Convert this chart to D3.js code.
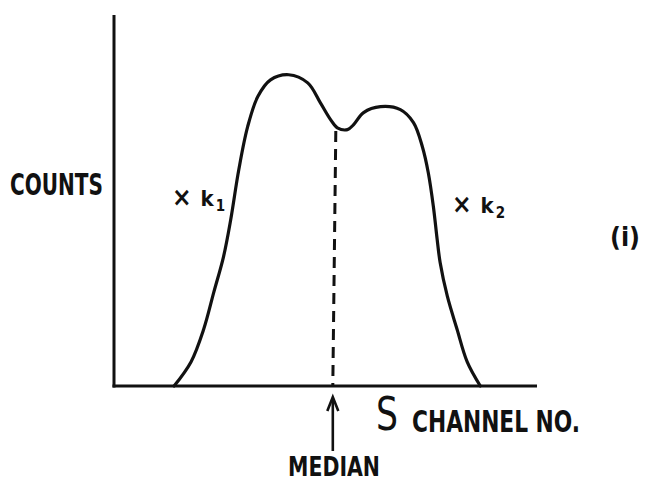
<!DOCTYPE html>
<html>
<head>
<meta charset="utf-8">
<script src="https://cdn.jsdelivr.net/npm/d3@7"></script>
<style>
  html, body { margin: 0; padding: 0; background: #fff; }
  svg { display: block; }
  text { fill: #111; }
</style>
</head>
<body>
<svg id="chart" width="646" height="482"></svg>
<script>
// S-channel spectrum: channel number vs counts (arbitrary units)
const channels = [14.2, 18.2, 21.2, 23.6, 25.9, 27.6, 29.5, 31.6, 34.0, 37.0, 41.3, 45.8, 48.8, 51.2, 52.8, 55.2, 56.6, 59.0, 63.0, 67.7, 70.8, 72.9, 74.3, 75.5, 76.4, 77.1, 78.8, 81.1, 83.5, 86.6];
const counts   = [0, 6.5, 15.3, 25.3, 34.9, 44.9, 58.3, 69.9, 78.0, 82.5, 83.9, 81.7, 76.3, 71.8, 69.6, 69.1, 70.4, 73.7, 75.3, 74.5, 71.0, 64.5, 57.5, 48.4, 39.5, 33.3, 24.2, 15.3, 6.5, 0];
const medianChannel = 52.2;
const medianCounts = 69.8;
const axisLabels = { y: "COUNTS", x: "CHANNEL NO.", xSymbol: "S", median: "MEDIAN", panel: "(i)" };

const svg = d3.select("#chart");
const ink = "#111";

const x = d3.scaleLinear().domain([0, 100]).range([114, 537]);
const y = d3.scaleLinear().domain([0, 100]).range([386, 15]);

// axes: plain lines, no ticks
svg.append("line")
  .attr("x1", x(0)).attr("x2", x(0))
  .attr("y1", y(0) + 1.5).attr("y2", y(100))
  .attr("stroke", ink).attr("stroke-width", 3);
svg.append("line")
  .attr("x1", x(0) - 1.5).attr("x2", x(100))
  .attr("y1", y(0)).attr("y2", y(0))
  .attr("stroke", ink).attr("stroke-width", 3);

// spectrum curve
const pts = channels.map((c, i) => [c, counts[i]]);
const line = d3.line()
  .x(d => x(d[0])).y(d => y(d[1]))
  .curve(d3.curveCatmullRom.alpha(0.5));
svg.append("path")
  .datum(pts)
  .attr("d", line)
  .attr("fill", "none")
  .attr("stroke", ink)
  .attr("stroke-width", 3.2)
  .attr("stroke-linecap", "round");

// median: dashed drop line
svg.append("line")
  .attr("x1", x(medianChannel) + 1).attr("x2", x(medianChannel) - 2)
  .attr("y1", y(medianCounts) + 4).attr("y2", y(0))
  .attr("stroke", ink).attr("stroke-width", 3)
  .attr("stroke-dasharray", "11 7");

// median arrow below the axis
const ax = x(medianChannel) - 2;
svg.append("line")
  .attr("x1", ax).attr("x2", ax)
  .attr("y1", 451).attr("y2", 400)
  .attr("stroke", ink).attr("stroke-width", 2.6);
svg.append("path")
  .attr("d", `M${ax - 5.5},${411} L${ax},${397} L${ax + 5.5},${411}`)
  .attr("fill", "none").attr("stroke", ink).attr("stroke-width", 2.6)
  .attr("stroke-linejoin", "miter");

const font = "'DejaVu Sans Condensed', 'DejaVu Sans', sans-serif";

function label(txt, px, py, size, width, weight) {
  const t = svg.append("text")
    .attr("x", px).attr("y", py)
    .attr("font-family", font)
    .attr("font-size", size)
    .attr("font-weight", weight || "bold")
    .text(txt);
  if (width) t.attr("textLength", width).attr("lengthAdjust", "spacingAndGlyphs");
  return t;
}

label(axisLabels.y, 10, 195, 30, 93);
label(axisLabels.xSymbol, 376, 430, 47, 22, "normal");
label(axisLabels.x, 412, 432, 30, 168);
label(axisLabels.median, 288, 476, 27, 92);
label(axisLabels.panel, 610, 246, 26, 30);

// scale factors on each half of the spectrum
function factor(px, py, sub) {
  const t = svg.append("text")
    .attr("x", px).attr("y", py)
    .attr("font-family", font)
    .attr("font-weight", "bold")
    .attr("font-size", 22);
  t.append("tspan").attr("font-size", 26).text("×");
  t.append("tspan").attr("dx", 9).text("k");
  t.append("tspan").attr("dx", 2).attr("dy", 5).attr("font-size", 15).text(sub);
}
factor(172, 206, "1");
factor(452, 213, "2");
</script>
</body>
</html>
